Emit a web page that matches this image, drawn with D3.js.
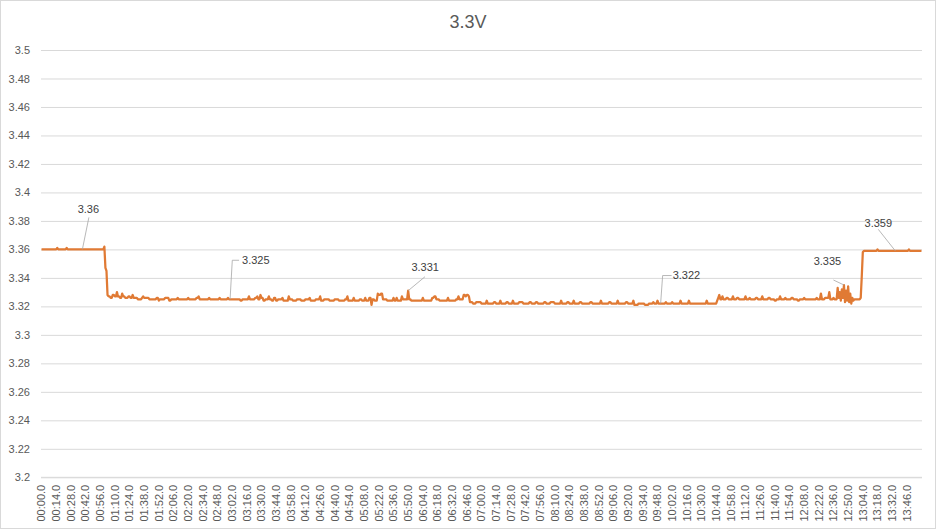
<!DOCTYPE html>
<html>
<head>
<meta charset="utf-8">
<script src="https://cdn.jsdelivr.net/npm/d3@7"></script>
<style>
  body { margin: 0; background: #fff; }
  svg { display: block; font-family: "Liberation Sans", Arial, sans-serif; }
</style>
</head>
<body>
<svg id="chart"></svg>
<script>
// chart title
let chartTitle = "3.3V";

// seconds logged (one sample per second, 00:00.0 .. 14:00.0)
let sampleCount = 841;

// voltage readings as runs: [second where the value starts, volts]
let voltRuns = [
  [0, 3.360], [15, 3.361], [16, 3.360], [24, 3.361], [25, 3.360],
  [60, 3.362], [61, 3.347], [62, 3.345], [63, 3.328], [64, 3.327], [66, 3.326],
  [68, 3.328], [70, 3.327], [72, 3.330], [73, 3.327], [75, 3.326], [77, 3.329],
  [78, 3.327], [80, 3.326], [83, 3.327], [85, 3.326], [87, 3.328], [88, 3.326],
  [92, 3.325], [96, 3.326], [97, 3.327], [98, 3.326], [103, 3.325], [110, 3.326],
  [112, 3.324], [113, 3.325], [118, 3.326], [122, 3.324], [124, 3.325], [130, 3.326],
  [131, 3.325], [140, 3.326], [141, 3.325], [148, 3.326], [150, 3.327], [151, 3.325],
  [160, 3.326], [161, 3.325], [170, 3.326], [171, 3.325], [178, 3.326], [179, 3.325],
  [190, 3.324], [192, 3.325], [198, 3.327], [199, 3.325], [204, 3.326], [206, 3.327],
  [207, 3.325], [209, 3.328], [210, 3.326], [212, 3.324], [214, 3.325], [217, 3.327],
  [218, 3.325], [220, 3.324], [222, 3.326], [224, 3.324], [226, 3.325], [230, 3.326],
  [231, 3.324], [236, 3.327], [237, 3.325], [240, 3.324], [244, 3.325], [248, 3.324],
  [252, 3.325], [256, 3.326], [257, 3.324], [262, 3.325], [266, 3.327], [267, 3.324],
  [270, 3.325], [275, 3.324], [280, 3.325], [284, 3.324], [290, 3.325], [292, 3.327],
  [293, 3.324], [298, 3.326], [299, 3.324], [304, 3.325], [306, 3.324], [309, 3.326],
  [310, 3.324], [313, 3.326], [315, 3.321], [316, 3.325], [318, 3.324], [321, 3.329],
  [322, 3.328], [324, 3.329], [326, 3.325], [330, 3.324], [336, 3.326], [337, 3.324],
  [339, 3.326], [340, 3.324], [344, 3.327], [345, 3.325], [350, 3.331], [351, 3.325],
  [353, 3.324], [364, 3.326], [365, 3.324], [373, 3.326], [375, 3.327], [377, 3.325],
  [380, 3.324], [388, 3.326], [389, 3.324], [396, 3.325], [398, 3.327], [399, 3.325],
  [403, 3.328], [405, 3.327], [406, 3.328], [408, 3.327], [409, 3.323], [412, 3.322],
  [415, 3.323], [420, 3.322], [425, 3.324], [426, 3.322], [432, 3.323], [434, 3.322],
  [438, 3.324], [439, 3.322], [444, 3.323], [446, 3.322], [450, 3.324], [451, 3.322],
  [456, 3.323], [460, 3.322], [466, 3.323], [468, 3.322], [472, 3.323], [474, 3.322],
  [480, 3.323], [482, 3.322], [486, 3.323], [490, 3.322], [496, 3.324], [497, 3.322],
  [502, 3.323], [504, 3.322], [508, 3.324], [509, 3.322], [514, 3.323], [516, 3.322],
  [524, 3.323], [526, 3.322], [534, 3.324], [535, 3.322], [542, 3.323], [544, 3.322],
  [550, 3.324], [551, 3.322], [558, 3.323], [560, 3.322], [565, 3.324], [566, 3.321],
  [570, 3.322], [576, 3.321], [580, 3.322], [584, 3.323], [585, 3.322], [588, 3.324],
  [589, 3.322], [596, 3.323], [597, 3.322], [602, 3.323], [603, 3.322], [610, 3.324],
  [611, 3.322], [618, 3.324], [619, 3.322], [635, 3.324], [636, 3.322], [645, 3.324],
  [646, 3.326], [647, 3.328], [648, 3.325], [650, 3.327], [651, 3.325], [654, 3.326],
  [656, 3.325], [660, 3.327], [661, 3.325], [664, 3.326], [666, 3.325], [672, 3.327],
  [673, 3.325], [676, 3.326], [677, 3.325], [682, 3.326], [684, 3.325], [688, 3.327],
  [689, 3.325], [694, 3.326], [696, 3.325], [700, 3.324], [702, 3.325], [705, 3.327],
  [706, 3.325], [710, 3.326], [711, 3.325], [716, 3.326], [718, 3.325], [722, 3.324],
  [724, 3.325], [728, 3.326], [729, 3.325], [740, 3.326], [741, 3.325], [744, 3.329],
  [745, 3.325], [748, 3.326], [752, 3.330], [753, 3.325], [756, 3.326], [757, 3.325],
  [760, 3.333], [761, 3.326], [762, 3.330], [763, 3.324], [764, 3.332], [765, 3.326],
  [766, 3.335], [767, 3.323], [768, 3.331], [769, 3.324], [770, 3.334], [771, 3.323],
  [772, 3.329], [773, 3.322], [774, 3.326], [775, 3.324], [776, 3.325], [782, 3.326],
  [783, 3.341], [784, 3.358], [785, 3.359], [798, 3.360], [799, 3.359], [828, 3.360],
  [829, 3.359]
];

// y axis ticks
let yTicks = [3.2, 3.22, 3.24, 3.26, 3.28, 3.3, 3.32, 3.34, 3.36, 3.38, 3.4, 3.42, 3.44, 3.46, 3.48, 3.5];

// x axis label every 14 samples
let xTickSeconds = d3.range(0, sampleCount - 14, 14);

// data labels shown on the line (second, text)
let labelSeconds = [39, 180, 350, 591, 766, 815];
let labelTexts = ["3.36", "3.325", "3.331", "3.322", "3.335", "3.359"];

// where each label sits relative to its point, and its leader line
let labelLayout = [
  { dx: 6, dy: -40, anchor: "middle", leader: [[6.5, -32], [0, 0]] },
  { dx: 12, dy: -39, anchor: "start", leader: [[9, -39], [2.2, -39], [0, 0]] },
  { dx: 17, dy: -24, anchor: "middle", leader: [[16.8, -14], [0, 0]] },
  { dx: 12, dy: -28, anchor: "start", leader: [[11, -28], [2, -28], [0, 0]] },
  { dx: -16.5, dy: -23.5, anchor: "middle", leader: [[-10.5, -5], [0, 0]] },
  { dx: -17, dy: -28, anchor: "middle", leader: [[-17, -21.5], [0, 0]] }
];

function fmtTime(s) {
  let m = Math.floor(s / 60), sec = s % 60;
  return String(m).padStart(2, "0") + ":" + String(sec).padStart(2, "0") + ".0";
}

function expandRuns() {
  // one value per second, holding each run's value until the next run starts
  let values = [];
  voltRuns.forEach((run, i) => {
    let end = i < voltRuns.length - 1 ? voltRuns[i + 1][0] : sampleCount;
    for (let s = run[0]; s < end; s++) values.push({ t: s, v: run[1] });
  });
  return values;
}

function getChartConfig() {
  let width = 938, height = 530;
  let plot = { left: 41, right: 922, top: 50, bottom: 477.3 };
  let svg = d3.select("#chart").attr("width", width).attr("height", height);
  return { width, height, plot, svg };
}

function getScales(config) {
  let { plot } = config;
  let xScale = d3.scaleBand()
    .domain(d3.range(sampleCount))
    .range([plot.left, plot.right])
    .padding(0);
  let yScale = d3.scaleLinear()
    .domain([3.2, 3.5])
    .range([plot.bottom, plot.top]);
  let xPos = s => xScale(s) + xScale.bandwidth() / 2;
  return { xScale, yScale, xPos };
}

function drawFrame(config) {
  let { svg, width, height } = config;
  svg.append("rect")
    .attr("x", 0.5).attr("y", 0.5)
    .attr("width", width - 3).attr("height", height - 2)
    .attr("fill", "#fff")
    .attr("stroke", "#d9d9d9");

  svg.append("text")
    .attr("x", 468)
    .attr("y", 28)
    .attr("text-anchor", "middle")
    .style("font-size", "18px")
    .style("fill", "#595959")
    .text(chartTitle);
}

function drawAxes(config, scales) {
  let { svg, plot } = config;
  let { yScale, xPos } = scales;

  let yAxis = d3.axisLeft(yScale)
    .tickValues(yTicks)
    .tickSize(-(plot.right - plot.left))
    .tickPadding(11)
    .tickFormat(d => String(+d.toFixed(2)));

  let gy = svg.append("g")
    .attr("class", "y axis")
    .attr("transform", "translate(" + plot.left + ",0)")
    .call(yAxis);
  gy.select(".domain").remove();
  gy.selectAll("line").attr("stroke", "#d9d9d9");
  gy.selectAll("text")
    .style("font-size", "11px")
    .style("fill", "#595959")
    .style("font-family", "Liberation Sans, Arial, sans-serif");

  let gx = svg.append("g")
    .attr("class", "x axis")
    .attr("transform", "translate(0," + plot.bottom + ")");
  gx.append("line")
    .attr("x1", plot.left).attr("x2", plot.right)
    .attr("stroke", "#d9d9d9");
  gx.selectAll("text")
    .data(xTickSeconds)
    .enter()
    .append("text")
    .attr("transform", d => "translate(" + xPos(d) + ",0) rotate(-90)")
    .attr("x", -7.5)
    .attr("dy", "0.35em")
    .attr("text-anchor", "end")
    .style("font-size", "11px")
    .style("fill", "#595959")
    .text(d => fmtTime(d));
}

function drawLine(config, scales, values) {
  let { svg } = config;
  let { yScale, xPos } = scales;
  let line = d3.line()
    .x(d => xPos(d.t))
    .y(d => yScale(d.v));

  svg.append("path")
    .datum(values)
    .attr("fill", "none")
    .attr("stroke", "#e07a34")
    .attr("stroke-width", 2.25)
    .attr("stroke-linejoin", "round")
    .attr("d", line);
}

function drawLabels(config, scales, values) {
  let { svg } = config;
  let { yScale, xPos } = scales;

  labelSeconds.forEach((s, i) => {
    let px = xPos(s), py = yScale(values[s].v);
    let lay = labelLayout[i];

    svg.append("polyline")
      .attr("points", lay.leader.map(p => (px + p[0]) + "," + (py + p[1])).join(" "))
      .attr("fill", "none")
      .attr("stroke", "#a6a6a6")
      .attr("stroke-width", 0.8);

    svg.append("text")
      .attr("x", px + lay.dx)
      .attr("y", py + lay.dy)
      .attr("dy", "0.35em")
      .attr("text-anchor", lay.anchor)
      .style("font-size", "11px")
      .style("fill", "#404040")
      .text(labelTexts[i]);
  });
}

function drawChart() {
  let values = expandRuns();
  let config = getChartConfig();
  let scales = getScales(config);
  drawFrame(config);
  drawAxes(config, scales);
  drawLine(config, scales, values);
  drawLabels(config, scales, values);
}

drawChart();
</script>
</body>
</html>
